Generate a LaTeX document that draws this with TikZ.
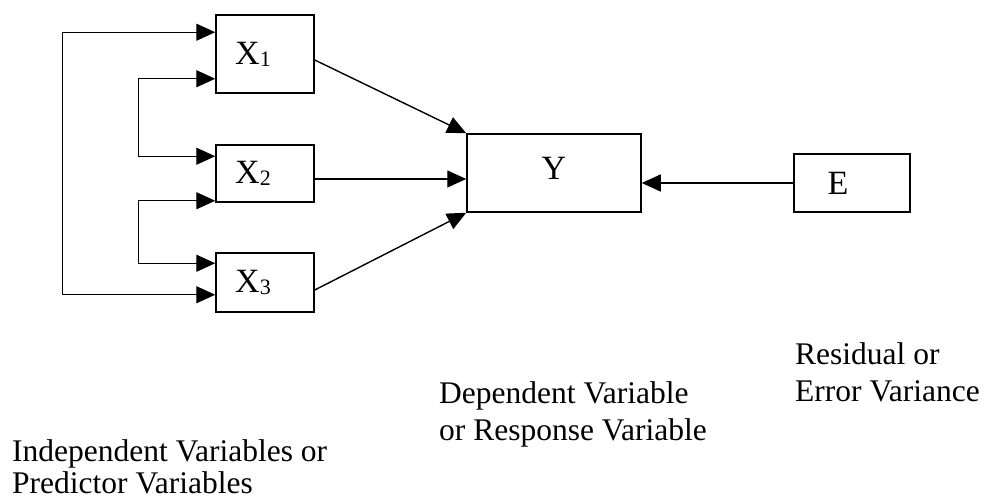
\documentclass[tikz,border=0pt]{standalone}
\usepackage{fontspec}
\setmainfont{Liberation Serif}
\usetikzlibrary{arrows.meta,calc}
\newcommand\mysubsc[1]{{\fontsize{22}{22}\selectfont\raisebox{-2pt}{#1}}}
\begin{document}
\begin{tikzpicture}[x=1pt,y=-1pt,
  box/.style={draw, line width=1.5pt, inner sep=0pt, font=\fontsize{34}{40}\selectfont},
  tip/.tip={Triangle[length=19pt,width=17pt]},
  arr/.style={line width=1.4pt, -tip},
  darr/.style={line width=1.4pt, tip-tip},
  lbl/.style={anchor=base west, inner sep=0pt, font=\fontsize{31.5}{36}\selectfont}]
\useasboundingbox (0,0) rectangle (988,502);
% boxes
\node[box, minimum width=98pt, minimum height=78pt] (X1) at (265,54) {X\mysubsc{1}\kern24pt};
\node[box, minimum width=98pt, minimum height=57pt] (X2) at (265,173.5) {X\mysubsc{2}\kern24pt};
\node[box, minimum width=98pt, minimum height=59pt] (X3) at (265,282.5) {X\mysubsc{3}\kern24pt};
\node[box, minimum width=174pt, minimum height=78pt] (Y) at (554,173) {\raisebox{9pt}{Y}};
\node[box, minimum width=116pt, minimum height=58pt] (E) at (852,183) {E\kern28pt};
% arrows into Y
\draw[arr] ($(X1.east)+(0,6)$) -- (Y.north west);
\draw[arr] ($(X2.east)+(0,5.5)$) -- ($(Y.west)+(0,6)$);
\draw[arr] ($(X3.east)+(0,7.5)$) -- (Y.south west);
\draw[arr] (E.west) -- (E.west -| Y.east);
% correlation brackets
\draw[darr] ($(X1.north west)+(0,18)$) -- ++(-153,0) |- ($(X3.south west)+(0,-18)$);
\draw[darr] ($(X1.south west)+(0,-15)$) -- ++(-77,0) |- ($(X2.north west)+(0,12)$);
\draw[darr] ($(X2.south west)+(0,-2)$) -- ++(-77,0) |- ($(X3.north west)+(0,11)$);
% labels
\node[lbl] (res1) at (795,365) {Residual or};
\node[lbl] (res2) at (795,402) {Error Variance};
\node[lbl] (dep1) at (439,403) {Dependent Variable};
\node[lbl] (dep2) at (439,440) {or Response Variable};
\node[lbl] (ind1) at (12,461) {Independent Variables or};
\node[lbl] (ind2) at (12,493) {Predictor Variables};
\end{tikzpicture}
\end{document}
